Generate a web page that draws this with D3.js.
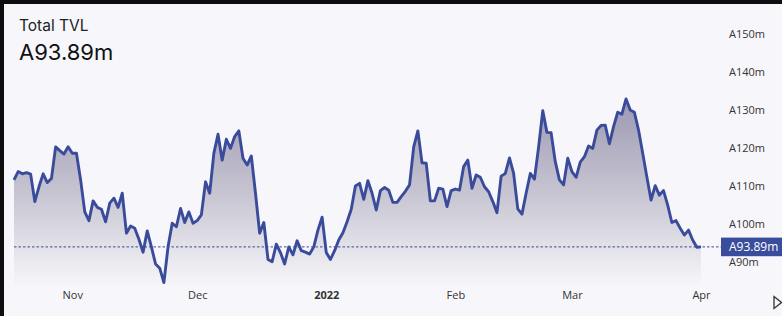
<!DOCTYPE html>
<html>
<head>
<meta charset="utf-8">
<script src="https://cdn.jsdelivr.net/npm/d3@7"></script>
<style>
  html, body { margin: 0; padding: 0; background: #111; }
  svg { display: block; }
</style>
</head>
<body>
<script>
// Total TVL, daily values (A$ m), 18 Oct 2021 -> 1 Apr 2022
var startDay = "2021-10-18";
var endDay = "2022-04-01";
var tvl = [
  111.5, 113.7, 113.1, 113.4, 113.0, 105.8, 109.7, 113.1, 110.8, 111.9, 120.2, 119.2, 118.3, 120.2,   // Oct
  118.5, 118.5, 111.5, 103.1, 100.8, 106.0, 104.3, 103.8, 100.5, 105.4, 106.7, 104.3, 108.0, 97.5, 99.4,
  98.8, 95.9, 92.5, 98.1, 93.9, 89.4, 88.3, 84.5, 93.9, 100.1, 99.2, 104.0, 100.3, 103.1, 100.1,     // Nov
  100.8, 102.3, 111.0, 108.0, 118.5, 123.5, 116.7, 122.2, 119.8, 122.9, 124.4, 117.2, 115.4, 117.8, 108.0,
  97.5, 100.3, 90.6, 90.0, 94.6, 92.4, 89.4, 93.9, 91.8, 95.5, 92.9, 92.5, 92.0, 93.9, 98.3, 101.7,  // Dec
  92.4, 90.6, 92.9, 95.7, 97.6, 100.5, 103.8, 109.9, 110.6, 106.4, 111.3, 108.0, 103.6, 108.7, 109.5,
  108.8, 105.6, 105.6, 107.1, 108.5, 110.2, 120.2, 124.4, 116.0, 115.9, 106.0, 106.0, 109.3, 109.1, 104.5, 108.7, // Jan
  109.1, 108.8, 115.0, 116.7, 109.3, 112.8, 112.2, 109.7, 108.4, 105.8, 102.9, 112.5, 113.2, 117.3,
  113.2, 103.9, 102.5, 108.0, 113.2, 111.7, 120.2, 129.7, 124.0, 123.9, 116.3, 111.5, 110.2, 117.2,  // Feb
  113.7, 112.2, 116.2, 117.6, 120.4, 119.8, 124.6, 125.8, 125.9, 121.0, 125.5, 129.3, 128.8, 132.8, 129.9,
  129.3, 124.6, 118.5, 112.3, 106.2, 110.0, 107.5, 108.7, 104.9, 100.3, 100.8, 98.8, 97.0, 98.3, 95.7, 93.8, // Mar
  93.89  // Apr 1
];
var yTicks = [90, 100, 110, 120, 130, 140, 150];
var monthTicks = ["2021-11-01", "2021-12-01", "2022-01-01", "2022-02-01", "2022-03-01", "2022-04-01"];
var monthLabels = ["Nov", "Dec", "2022", "Feb", "Mar", "Apr"];
var title = "Total TVL";
var current = 93.89;

var width = 782, height = 316;
var parse = d3.timeParse("%Y-%m-%d");
var days = d3.timeDay.range(parse(startDay), d3.timeDay.offset(parse(endDay), 1));
var data = days.map((d, i) => ({date: d, value: tvl[i]}));

var svg = d3.select("body").append("svg")
    .attr("width", width)
    .attr("height", height)
    .style("font-family", "'Open Sans', 'Liberation Sans', sans-serif");

// panel + dark frame
svg.append("rect").attr("width", width).attr("height", height).attr("fill", "#f7f7fb");
svg.append("rect").attr("width", width).attr("height", 4).attr("fill", "#0e0e10");
svg.append("rect").attr("width", 4).attr("height", height).attr("fill", "#0e0e10");

var xScale = d3.scaleTime().domain([parse(startDay), parse(endDay)]).range([14, 701]);
var yScale = d3.scaleLinear().domain([90, 150]).range([261.7, 33.5]);
var bottom = 285;

var grad = svg.append("defs").append("linearGradient")
    .attr("id", "fillGrad")
    .attr("gradientUnits", "userSpaceOnUse")
    .attr("x1", 0).attr("x2", 0).attr("y1", 95).attr("y2", bottom);
grad.append("stop").attr("offset", 0).attr("stop-color", "#9a97b0");
grad.append("stop").attr("offset", 0.55).attr("stop-color", "#cac8d4");
grad.append("stop").attr("offset", 1).attr("stop-color", "#f6f6f9");

var area = d3.area()
    .x(d => xScale(d.date))
    .y0(bottom)
    .y1(d => yScale(d.value));
var line = d3.line()
    .x(d => xScale(d.date))
    .y(d => yScale(d.value));

svg.append("path").datum(data).attr("d", area).attr("fill", "url(#fillGrad)");

// current value guide
var yCur = yScale(current);
svg.append("line")
    .attr("x1", 14).attr("x2", 721)
    .attr("y1", yCur).attr("y2", yCur)
    .attr("stroke", "#3a4a96")
    .attr("stroke-width", 1)
    .attr("stroke-dasharray", "2.5,2");

svg.append("path").datum(data)
    .attr("d", line)
    .attr("fill", "none")
    .attr("stroke", "#3b4b9b")
    .attr("stroke-width", 2.9)
    .attr("stroke-linejoin", "round");

// y axis on the right
var yAxis = d3.axisRight(yScale)
    .tickValues(yTicks)
    .tickSize(0)
    .tickPadding(0)
    .tickFormat(d => "A" + d + "m");
var gy = svg.append("g").attr("transform", "translate(729,0)").call(yAxis);
gy.select(".domain").remove();
gy.selectAll("text").attr("font-size", 11).attr("fill", "#333").attr("font-family", "'Open Sans', sans-serif");

// x axis
var xAxis = d3.axisBottom(xScale)
    .tickValues(monthTicks.map(parse))
    .tickSize(0)
    .tickPadding(0)
    .tickFormat((d, i) => monthLabels[i]);
var gx = svg.append("g").attr("transform", "translate(0,291)").call(xAxis);
gx.select(".domain").remove();
gx.selectAll("text")
    .attr("font-size", 11)
    .attr("fill", "#333")
    .attr("font-family", "'Open Sans', sans-serif")
    .attr("font-weight", (d, i) => monthLabels[i] == "2022" ? "bold" : "normal");

// current value tag
svg.append("rect")
    .attr("x", 721).attr("y", yCur - 9.3)
    .attr("width", 61).attr("height", 18.6)
    .attr("fill", "#3a4c9c");
svg.append("text")
    .attr("x", 729).attr("y", yCur)
    .attr("dy", "0.35em")
    .attr("font-size", 12)
    .attr("fill", "#fff")
    .text("A" + current + "m");

// header
svg.append("text").attr("x", 19).attr("y", 31)
    .attr("font-size", 15.5).attr("fill", "#222")
    .attr("font-family", "Inter, Roboto, sans-serif")
    .text(title);
svg.append("text").attr("x", 19).attr("y", 60)
    .attr("font-size", 22).attr("fill", "#111")
    .attr("font-family", "Inter, Roboto, sans-serif")
    .text("A" + current + "m");

// little play icon bottom right
svg.append("path")
    .attr("d", "M774,296.5 L781.5,302.5 L774,308.5 Z")
    .attr("fill", "none")
    .attr("stroke", "#333")
    .attr("stroke-width", 1.3);
</script>
</body>
</html>
